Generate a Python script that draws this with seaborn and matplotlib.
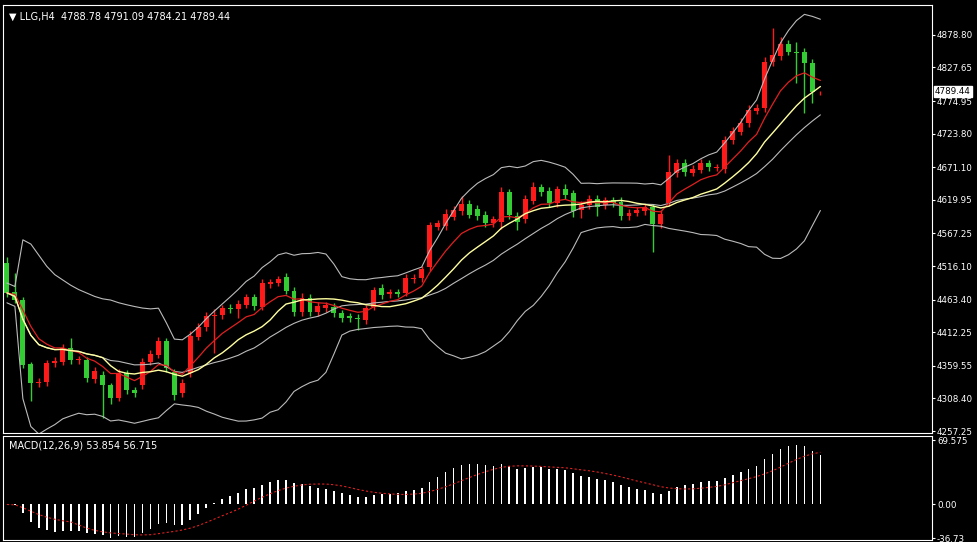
import numpy as np
import pandas as pd
import matplotlib
matplotlib.use("Agg")
import matplotlib.pyplot as plt
import seaborn as sns

opens = [4521,4475,4463,4362,4332,4334,4364,4366,4388,4368,4369,4339,4345,4329,4309,4348,4322,4329,4366,4377,
         4399,4350,4317,4348,4405,4420,4437,4439,4451,4449,4455,4468,4452,4488,4490,4499,4477,4444,4466,4444,
         4450,4452,4442,4437,4435,4431,4452,4482,4472,4475,4474,4496,4497,4515,4577,4579,4593,4603,4614,4606,
         4596,4584,4585,4632,4595,4590,4618,4640,4634,4615,4637,4631,4604,4612,4621,4612,4620,4617,4595,4599,
         4603,4609,4582,4615,4662,4678,4662,4667,4678,4670,4668,4714,4727,4741,4760,4764,4836,4846,4865,4852,
         4852,4835,4788.78]
closes = [4474,4463,4361,4332,4334,4364,4367,4388,4369,4370,4340,4351,4329,4309,4348,4322,4317,4366,4378,4399,
          4356,4314,4333,4406,4420,4438,4440,4450,4449,4457,4468,4453,4490,4491,4496,4477,4444,4466,4444,4453,
          4455,4442,4435,4435,4433,4450,4478,4471,4475,4473,4497,4498,4511,4580,4583,4598,4604,4614,4597,4595,
          4584,4590,4632,4596,4585,4621,4640,4632,4615,4637,4628,4603,4612,4621,4609,4620,4615,4595,4599,4604,
          4609,4582,4598,4664,4678,4664,4669,4678,4672,4670,4714,4728,4741,4761,4764,4836,4847,4865,4852,4850,
          4835,4789,4789.44]
up_wick = [10,30,4,4,6,5,6,6,16,5,5,6,6,4,6,5,5,6,6,6,
           5,5,6,8,6,6,8,5,6,6,5,5,6,5,5,6,6,8,6,6,
           5,6,5,5,6,5,6,6,5,5,6,5,5,5,5,8,6,12,5,6,
           6,5,8,5,6,6,8,5,6,5,8,5,6,6,6,5,5,8,6,5,
           5,5,6,26,6,6,5,6,5,6,6,6,8,8,6,8,43,10,6,15,
           6,6,1.65]
dn_wick = [6,5,5,27,6,6,6,5,6,6,6,6,51,10,5,6,6,6,5,5,
           6,8,6,6,5,5,58,6,6,15,5,6,5,6,5,5,6,6,6,6,
           6,6,6,6,17,6,5,6,6,6,5,6,6,6,5,6,5,6,6,6,
           6,6,10,6,12,6,5,6,6,6,6,10,12,6,15,6,6,6,6,5,
           6,44,6,5,6,6,5,5,6,5,6,6,6,6,6,6,6,6,5,47,
           79,17,4.57]

price_ticks = [4878.80,4827.65,4774.95,4723.80,4671.10,4619.95,4567.25,4516.10,4463.40,4412.25,4359.55,4308.40,4257.25]
macd_ticks = [69.575, 0.00, -36.73]
title = "LLG,H4  4788.78 4791.09 4784.21 4789.44"

df = pd.DataFrame({"open": opens, "close": closes})
df["i"] = np.arange(len(df))
df["high"] = np.maximum(df.open, df.close) + np.array(up_wick)
df["low"] = np.minimum(df.open, df.close) - np.array(dn_wick)
c = df.close
df["mid"] = c.rolling(20, min_periods=1).mean()
sd = c.rolling(20, min_periods=2).std().bfill()
df["upper"] = df.mid + 2 * sd
df["lower"] = df.mid - 2 * sd
df["fast"] = c.ewm(span=8, adjust=False).mean()
df["slow"] = c.rolling(13, min_periods=1).mean()
df["macd"] = c.ewm(span=12, adjust=False).mean() - c.ewm(span=26, adjust=False).mean()
df["signal"] = df.macd.rolling(9, min_periods=1).mean()

sns.set_style("dark", {"axes.facecolor": "black", "figure.facecolor": "black"})
fig = plt.figure(figsize=(9.78, 5.42), dpi=100)
fig.patch.set_facecolor("black")
ax = fig.add_axes([0.003, 0.201, 0.950, 0.790])
ax2 = fig.add_axes([0.003, 0.003, 0.950, 0.192])
for a in (ax, ax2):
    a.set_facecolor("black")
    for s in a.spines.values():
        s.set_color("white"); s.set_linewidth(0.8)
    a.grid(False)

up = df.close >= df.open
cols = np.where(up, "#ff1a1a", "#33cc33")
ax.vlines(df.i, df.low, df.high, colors=cols, linewidth=1)
body_h = (df.close - df.open).abs().clip(lower=1.2)
ax.bar(df.i, body_h, bottom=np.minimum(df.open, df.close), width=0.62, color=cols, linewidth=0)

for col, color, lw in [("upper", "#bbbbbb", 0.8), ("mid", "#bbbbbb", 0.8), ("lower", "#bbbbbb", 0.8),
                       ("fast", "#e02020", 0.9), ("slow", "#ffffa0", 1.0)]:
    sns.lineplot(data=df, x="i", y=col, ax=ax, color=color, linewidth=lw, legend=False)

ax.set_xlim(-0.5, 116)
ax.set_ylim(4254.1, 4925.9)
ax.yaxis.tick_right()
ax.set_yticks(price_ticks)
ax.set_yticklabels([f"{t:.2f}" for t in price_ticks])
ax.tick_params(axis="y", colors="white", labelsize=6.3, length=2, pad=1.5)
ax.set_xticks([]); ax.set_xlabel(""); ax.set_ylabel("")
ax.text(0.006, 0.985, "▼ " + title, transform=ax.transAxes, color="white", fontsize=7, va="top", ha="left")
ax.annotate(f"{closes[-1]:.2f}", xy=(1.0, closes[-1]), xycoords=("axes fraction", "data"),
            xytext=(2, 0), textcoords="offset points", va="center", ha="left", fontsize=6.3,
            color="black", bbox=dict(boxstyle="square,pad=0.1", fc="white", ec="white"))

ax2.bar(df.i, df.macd, width=0.22, color="white", linewidth=0)
sns.lineplot(data=df, x="i", y="signal", ax=ax2, color="#e02020", linewidth=0.8, linestyle=(0, (2, 2)), legend=False)
ax2.set_xlim(-0.5, 116)
ax2.set_ylim(-39, 74)
ax2.yaxis.tick_right()
ax2.set_yticks(macd_ticks)
ax2.set_yticklabels(["69.575", "0.00", "-36.73"])
ax2.tick_params(axis="y", colors="white", labelsize=6.3, length=2, pad=1.5)
ax2.set_xticks([]); ax2.set_xlabel(""); ax2.set_ylabel("")
ax2.text(0.006, 0.96, "MACD(12,26,9) 53.854 56.715", transform=ax2.transAxes, color="white", fontsize=7, va="top", ha="left")

fig.savefig("out.png", dpi=100, facecolor="black")
